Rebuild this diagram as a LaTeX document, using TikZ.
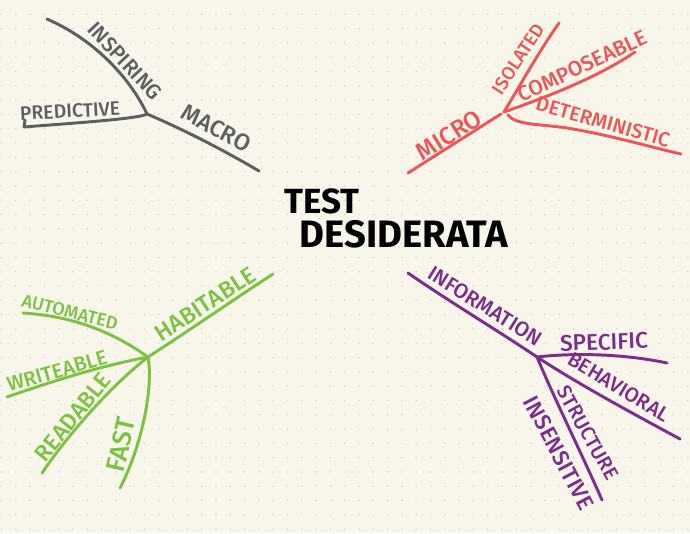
\documentclass[tikz,border=0pt]{standalone}
\usepackage{fontspec}
\setmainfont{Fira Sans}[UprightFont={* Medium}, BoldFont={* Bold}]
\usepackage{graphicx}
\definecolor{bgc}{HTML}{F8F6EB}
\definecolor{dotc}{HTML}{DCDAD0}
\definecolor{cgray}{HTML}{5E5E5E}
\definecolor{cred}{HTML}{EE5558}
\definecolor{cgreen}{HTML}{7CC242}
\definecolor{cpurple}{HTML}{7B2D8B}
\newcommand\fitw[2]{\resizebox{0.75\dimexpr#1pt\relax}{!}{#2}}
\begin{document}
\begin{tikzpicture}[x=0.75pt,y=-0.75pt,
  br/.style={line width=2.2pt, line cap=round, line join=round},
  lbl/.style={inner sep=0pt, anchor=center}]
\fill[bgc] (0,0) rectangle (690,533);
\useasboundingbox (0,0) rectangle (690,533);
\foreach \i in {0,...,48} \foreach \j in {1,...,37}
  \fill[dotc] (1.5+14.3*\i,14.3*\j) circle (0.9);

% ---------- gray branch ----------
\coordinate (gJ) at (147,114);
\coordinate (gIns) at (47,19);
\coordinate (gPre) at (24,127);
\coordinate (gPreHook) at (25,120);
\coordinate (gMac) at (259,171);
\begin{scope}[draw=cgray, text=cgray]
\draw[br] (gIns) .. controls (95,40) and (130,78) .. (gJ);
\draw[br] (gJ) .. controls (140,119) and (60,124) .. (gPre) -- (gPreHook);
\draw[br] (gJ) .. controls (180,128) and (220,148) .. (gMac);
\node[lbl, rotate=-47] (inspiring) at (125,61) {\fitw{98}{INSPIRING}};
\node[lbl, rotate=3] (predictive) at (70,111) {\fitw{100}{PREDICTIVE}};
\node[lbl, rotate=-28] (macro) at (216,128) {\fitw{75}{MACRO}};
\end{scope}

% ---------- red branch ----------
\coordinate (rJ) at (504,112);
\coordinate (rMic) at (408,173);
\coordinate (rIso) at (559,23);
\coordinate (rCom) at (635,52);
\coordinate (rDetS) at (508,115);
\coordinate (rDet) at (681,154);
\begin{scope}[draw=cred, text=cred]
\draw[br] (rMic) -- (501,114);
\draw[br] (rJ) .. controls (522,82) and (540,50) .. (rIso);
\draw[br] (rJ) .. controls (550,96) and (600,76) .. (rCom);
\draw[br] (rDetS) .. controls (515,125) and (540,124) .. (567,128)
  .. controls (610,135) and (650,147) .. (rDet);
\node[lbl, rotate=32] (micro) at (449,135) {\fitw{72}{MICRO}};
\node[lbl, rotate=57] (isolated) at (518,59) {\fitw{80}{ISOLATED}};
\node[lbl, rotate=25] (composeable) at (582,66) {\fitw{140}{COMPOSEABLE}};
\node[lbl, rotate=-16] (deterministic) at (603,122) {\fitw{138}{DETERMINISTIC}};
\end{scope}

% ---------- green branch ----------
\coordinate (nJ) at (148,357);
\coordinate (nHab) at (273,274);
\coordinate (nAut) at (23,313);
\coordinate (nWri) at (7,397);
\coordinate (nRea) at (42,473);
\coordinate (nFas) at (120,488);
\begin{scope}[draw=cgreen, text=cgreen]
\draw[br] (nJ) .. controls (190,330) and (230,302) .. (nHab);
\draw[br] (nAut) .. controls (70,316) and (110,330) .. (nJ);
\draw[br] (nJ) .. controls (100,366) and (50,382) .. (nWri);
\draw[br] (nJ) .. controls (112,385) and (70,432) .. (nRea);
\draw[br] (nJ) .. controls (154,390) and (140,450) .. (nFas);
\node[lbl, rotate=33] (habitable) at (205,304) {\fitw{115}{HABITABLE}};
\node[lbl, rotate=-14] (automated) at (70,312) {\fitw{98}{AUTOMATED}};
\node[lbl, rotate=16] (writeable) at (57,371) {\fitw{103}{WRITEABLE}};
\node[lbl, rotate=51] (readable) at (73,417) {\fitw{106}{READABLE}};
\node[lbl, rotate=77] (fast) at (121,445) {\fitw{55}{FAST}};
\end{scope}

% ---------- purple branch ----------
\coordinate (pJ) at (537,357);
\coordinate (pInf) at (408,273);
\coordinate (pSpe) at (667,363);
\coordinate (pBeh) at (680,439);
\coordinate (pStr) at (602,500);
\begin{scope}[draw=cpurple, text=cpurple]
\draw[br] (pInf) .. controls (450,302) and (500,332) .. (pJ);
\draw[br] (pJ) .. controls (580,352) and (630,355) .. (pSpe);
\draw[br] (pJ) .. controls (580,385) and (630,412) .. (pBeh);
\draw[br] (pJ) .. controls (555,400) and (580,450) .. (pStr);
\node[lbl, rotate=-32] (information) at (485,306) {\fitw{130}{INFORMATION}};
\node[lbl, rotate=2] (specific) at (604,342) {\fitw{88}{SPECIFIC}};
\node[lbl, rotate=-31] (behavioral) at (619,387) {\fitw{115}{BEHAVIORAL}};
\node[lbl, rotate=-61] (structure) at (588,433) {\fitw{104}{STRUCTURE}};
\node[lbl, rotate=-62] (insensitive) at (559,453) {\fitw{125}{INSENSITIVE}};
\end{scope}

% ---------- center ----------
\node[lbl] (test) at (322,201) {\fitw{75}{\bfseries TEST}};
\node[lbl] (desiderata) at (404,234) {\fitw{208}{\bfseries DESIDERATA}};
\end{tikzpicture}
\end{document}
